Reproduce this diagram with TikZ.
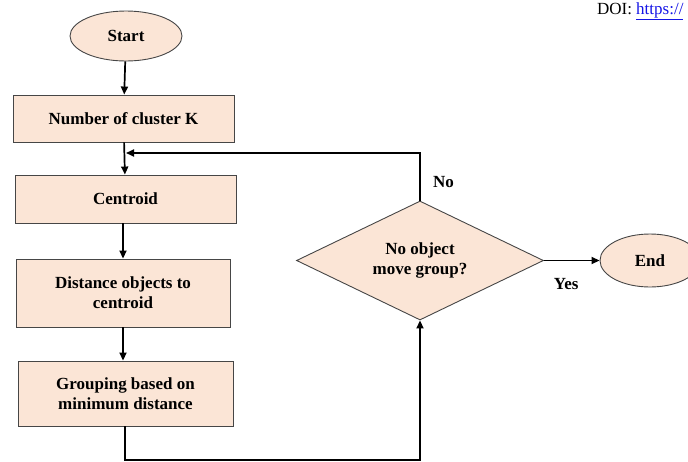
\documentclass[tikz,border=0pt]{standalone}
\usepackage{fontspec}
\setmainfont{Liberation Serif}
\usetikzlibrary{arrows.meta, positioning, shapes.geometric}

\definecolor{peach}{RGB}{251,229,214}
\definecolor{edge}{RGB}{70,70,70}
\definecolor{linkblue}{RGB}{20,20,230}

\begin{document}
\begin{tikzpicture}[x=1pt, y=-1pt, >={Triangle[length=8pt, width=7pt]},
    every node/.style={font=\fontsize{17}{20}\selectfont\bfseries},
    terminal/.style={draw=edge, ellipse, fill=peach, line width=0.9pt, inner sep=0pt},
    stepbox/.style={draw=edge, rectangle, fill=peach, line width=0.9pt, align=center, inner sep=0pt},
    choice/.style={draw=edge, diamond, aspect=2, fill=peach, line width=0.9pt, align=center, inner sep=0pt},
    flow/.style={line width=1.7pt}]
    \useasboundingbox (0,0) rectangle (688,461);

    % page header in the corner
    \node (doi) at (687,14) [anchor=base east, font=\fontsize{17}{20}\selectfont] {DOI: \textcolor{linkblue}{\underline{https://}}};

    \node (start) at (126,36) [terminal, minimum width=112pt, minimum height=50pt] {Start};
    \node (nclust) at (123.5,118.5) [stepbox, minimum width=221pt, minimum height=47pt] {Number of cluster K};
    \node (centroid) at (125.5,199) [stepbox, minimum width=221pt, minimum height=48pt] {Centroid};
    \node (dist) at (123,293) [stepbox, minimum width=214pt, minimum height=68pt] {Distance objects to\\centroid};
    \node (grp) at (125.5,393.5) [stepbox, minimum width=215pt, minimum height=65pt] {Grouping based on\\minimum distance};

    \node (check) at (420,260.5) [choice, minimum width=247pt, minimum height=119pt] {No object\\move group?};
    \node (finish) at (650,260.5) [terminal, minimum width=100pt, minimum height=53pt] {End};

    \coordinate (back) at (126,153);
    \coordinate (low) at (125,460);

    \draw [->, flow] (start) -- (nclust);
    \draw [->, flow] (nclust) -- (centroid);
    \draw [->, flow] (centroid.south -| dist.north) -- (dist);
    \draw [->, flow] (dist) -- (grp.north -| dist.south);
    \draw [->, flow] (check.north) |- (back) node [pos=0.2, right=9pt] (no) {No};
    \draw [->, flow] (grp.south -| low) -- (low) -| (check.south);
    \draw [->, flow] (check.east) -- (finish.west) node [pos=0.4, below=14pt] (yes) {Yes};
\end{tikzpicture}
\end{document}
